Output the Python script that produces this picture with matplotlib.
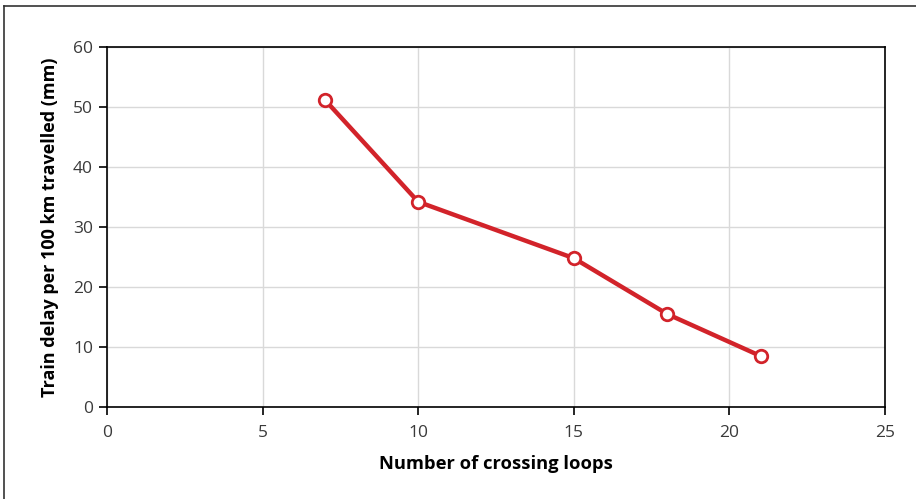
import matplotlib.pyplot as plt
from matplotlib.lines import Line2D

plt.rcParams['font.family'] = ['Open Sans', 'DejaVu Sans']

loops = [7, 10, 15, 18, 21]
delay = [51.2, 34.2, 24.8, 15.5, 8.5]
x_ticks = [0, 5, 10, 15, 20, 25]
y_ticks = [0, 10, 20, 30, 40, 50, 60]

red = '#d2232a'

fig = plt.figure(figsize=(9.16, 4.99), dpi=100)
ax = fig.add_axes([107 / 916, 1 - 407 / 499, 778 / 916, 360 / 499])

ax.plot(loops, delay, color=red, linewidth=3.2, marker='o', markersize=9,
        markerfacecolor='white', markeredgecolor=red, markeredgewidth=2, zorder=3)

ax.set_xlim(0, 25)
ax.set_ylim(0, 60)
ax.set_xticks(x_ticks)
ax.set_yticks(y_ticks)
ax.grid(True, color='#d9d9d9', linewidth=1)
ax.set_axisbelow(True)
for s in ax.spines.values():
    s.set_color('black')
    s.set_linewidth(1.2)
ax.tick_params(direction='out', length=6, width=1.2, colors='black',
               labelcolor='#3a3a3a', labelsize=12.5, pad=4)
ax.tick_params(axis='x', pad=7)

ax.set_xlabel('Number of crossing loops', fontsize=13.2, fontweight='bold', labelpad=10)
ax.set_ylabel('Train delay per 100 km travelled (mm)', fontsize=13, fontweight='bold', labelpad=10)

# outer frame (top and left only)
fig.add_artist(Line2D([4 / 916, 1], [1 - 6 / 499, 1 - 6 / 499], color='#333333', linewidth=1.2,
                      transform=fig.transFigure))
fig.add_artist(Line2D([4 / 916, 4 / 916], [0, 1 - 6 / 499], color='#333333', linewidth=1.2,
                      transform=fig.transFigure))

fig.savefig('out.png', dpi=100)
